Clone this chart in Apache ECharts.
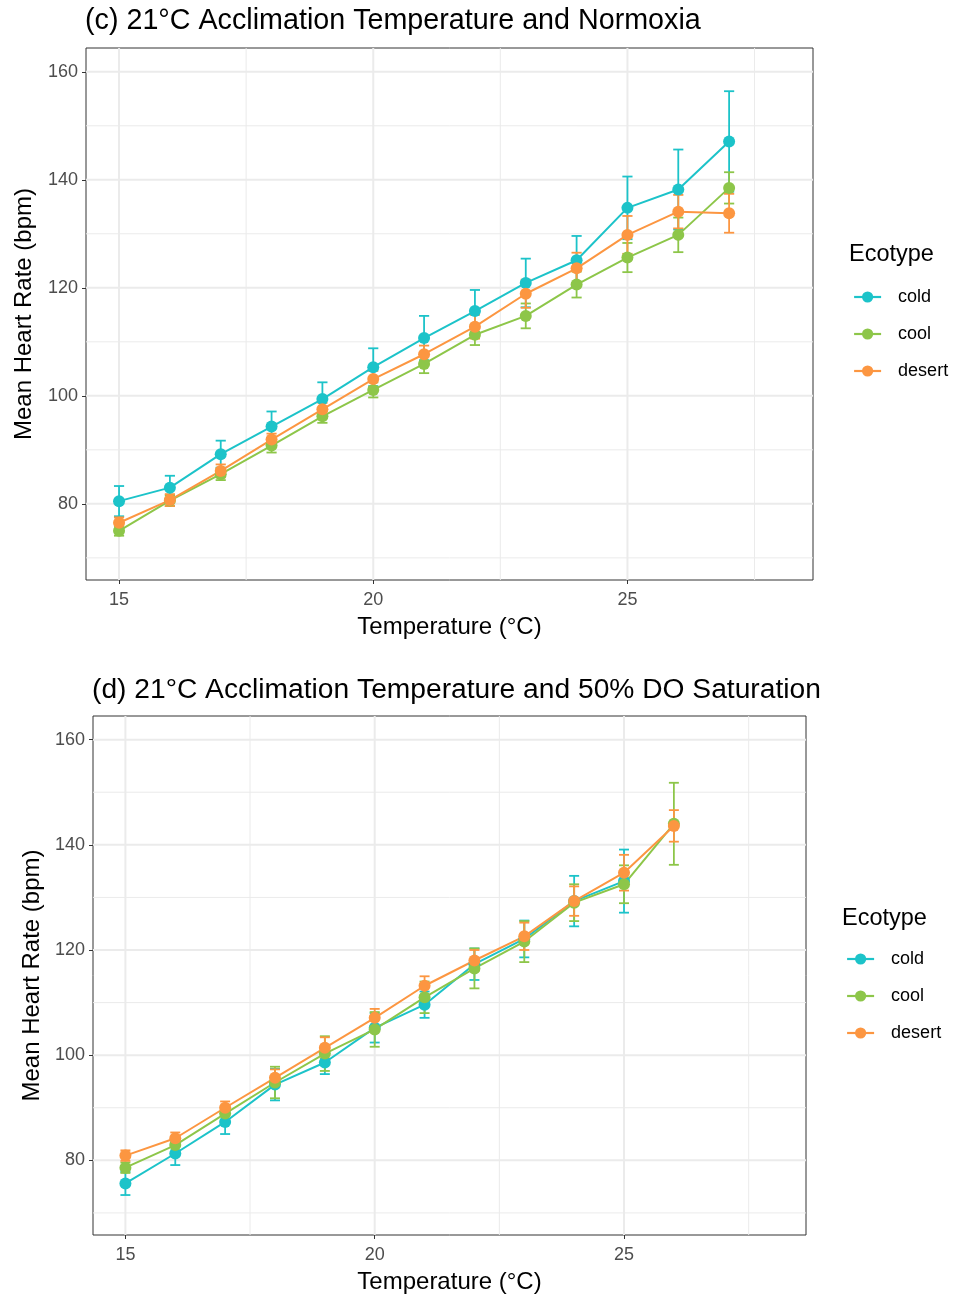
<!DOCTYPE html>
<html>
<head>
<meta charset="utf-8">
<script src="https://cdn.jsdelivr.net/npm/echarts@6/dist/echarts.min.js"></script>
<style>
html,body{margin:0;padding:0;background:#fff;}
#main{width:955px;height:1295px;}
</style>
</head>
<body>
<div id="main"></div>
<script>
// ---------- data ----------
const ecotypes = ['cold', 'cool', 'desert'];
const tempsC = [15, 16, 17, 18, 19, 20, 21, 22, 23, 24, 25, 26, 27];
const coldC = [80.5, 83.0, 89.2, 94.3, 99.4, 105.3, 110.7, 115.7, 120.9, 125.1, 134.8, 138.2, 147.1];
const coldCse = [2.8, 2.2, 2.5, 2.8, 3.1, 3.5, 4.1, 3.9, 4.5, 4.5, 5.8, 7.4, 9.3];
const coolC = [75.0, 80.6, 85.5, 90.8, 96.2, 101.1, 105.9, 111.3, 114.8, 120.6, 125.6, 129.8, 138.5];
const coolCse = [0.9, 1.0, 1.1, 1.3, 1.2, 1.4, 1.7, 1.9, 2.3, 2.4, 2.7, 3.2, 2.9];
const desertC = [76.5, 80.7, 86.1, 91.9, 97.5, 103.1, 107.7, 112.8, 118.9, 123.6, 129.8, 134.1, 133.8];
const desertCse = [1.0, 1.1, 1.2, 1.1, 1.2, 1.5, 1.6, 2.2, 2.6, 2.9, 3.5, 3.1, 3.6];

const tempsD = [15, 16, 17, 18, 19, 20, 21, 22, 23, 24, 25, 26];
const coldD = [75.6, 81.3, 87.3, 94.4, 98.6, 105.2, 109.6, 117.3, 122.1, 129.3, 133.1];
const coldDse = [2.2, 2.2, 2.3, 3.0, 2.2, 2.8, 2.5, 3.0, 3.5, 4.8, 6.0];
const coolD = [78.6, 82.9, 88.9, 94.8, 100.3, 104.9, 111.0, 116.5, 121.6, 129.0, 132.5, 144.0];
const coolDse = [1.0, 1.3, 1.5, 3.0, 3.3, 3.3, 3.0, 3.8, 3.9, 3.5, 3.6, 7.8];
const desertD = [80.9, 84.2, 90.0, 95.7, 101.4, 107.1, 113.2, 118.0, 122.6, 129.3, 134.7, 143.6];
const desertDse = [1.0, 1.1, 1.2, 1.6, 2.0, 1.7, 1.8, 2.0, 2.6, 2.8, 3.4, 3.0];

const xTicks = [15, 20, 25];
const xMinor = [17.5, 22.5, 27.5];
const yTicks = [80, 100, 120, 140, 160];
const yMinor = [70, 90, 110, 130, 150];

const titleC = '(c) 21°C Acclimation Temperature and Normoxia';
const titleD = '(d) 21°C Acclimation Temperature and 50% DO Saturation';
const xTitle = 'Temperature (°C)';
const yTitle = 'Mean Heart Rate (bpm)';
const legendTitle = 'Ecotype';

// ---------- styling ----------
const colors = {cold: '#1CC3C9', cool: '#8DC649', desert: '#FC9641'};
const FONT = 'Liberation Sans, Arial, Helvetica, sans-serif';

function gridLineSeries(gi) {
  const data = [];
  xTicks.forEach(v => data.push([v, 0, 1]));
  xMinor.forEach(v => data.push([v, 0, 0]));
  yTicks.forEach(v => data.push([v, 1, 1]));
  yMinor.forEach(v => data.push([v, 1, 0]));
  return {
    type: 'custom', xAxisIndex: gi, yAxisIndex: gi, silent: true, z: 0,
    data: data, encode: {x: -1, y: -1},
    renderItem: function (params, api) {
      const cs = params.coordSys;
      const v = api.value(0), horiz = api.value(1), major = api.value(2);
      let shape;
      if (horiz) {
        const y = api.coord([20, v])[1];
        shape = {x1: cs.x, y1: y, x2: cs.x + cs.width, y2: y};
      } else {
        const x = api.coord([v, 100])[0];
        shape = {x1: x, y1: cs.y, x2: x, y2: cs.y + cs.height};
      }
      return {type: 'line', shape: shape,
        style: {stroke: '#EBEBEB', lineWidth: major ? 2 : 1}};
    }
  };
}

function errSeries(gi, name, xs, ys, se) {
  const data = ys.map((y, i) => [xs[i], y - se[i], y + se[i]]);
  const col = colors[name];
  return {
    type: 'custom', xAxisIndex: gi, yAxisIndex: gi, z: 2, silent: true,
    itemStyle: {color: col},
    data: data, encode: {x: 0, y: [1, 2]},
    renderItem: function (params, api) {
      const x = api.value(0);
      const lo = api.coord([x, api.value(1)]);
      const hi = api.coord([x, api.value(2)]);
      const hw = api.size([0.1, 0])[0];
      const st = {stroke: col, lineWidth: 1.8};
      return {type: 'group', children: [
        {type: 'line', shape: {x1: lo[0], y1: lo[1], x2: hi[0], y2: hi[1]}, style: st},
        {type: 'line', shape: {x1: lo[0] - hw, y1: lo[1], x2: lo[0] + hw, y2: lo[1]}, style: st},
        {type: 'line', shape: {x1: hi[0] - hw, y1: hi[1], x2: hi[0] + hw, y2: hi[1]}, style: st}
      ]};
    }
  };
}

function lineSeries(gi, name, xs, ys) {
  return {
    type: 'line', name: name, xAxisIndex: gi, yAxisIndex: gi, z: 3,
    data: ys.map((y, i) => [xs[i], y]),
    symbol: 'circle', symbolSize: 12, showSymbol: true,
    itemStyle: {color: colors[name]},
    lineStyle: {color: colors[name], width: 2}
  };
}

function xAxis(gi) {
  return {
    type: 'value', gridIndex: gi, min: 14.35, max: 28.65,
    name: xTitle, nameLocation: 'middle', nameGap: 35,
    nameTextStyle: {fontFamily: FONT, fontSize: 24, color: '#000'},
    axisLine: {show: false, onZero: false},
    axisTick: {show: true, length: 4, customValues: xTicks, lineStyle: {color: '#333', width: 1}},
    axisLabel: {customValues: xTicks, margin: 11, fontFamily: FONT, fontSize: 18, color: '#4D4D4D'},
    splitLine: {show: false}
  };
}
function yAxis(gi, mn, mx, gap) {
  return {
    type: 'value', gridIndex: gi, min: mn, max: mx,
    name: yTitle, nameLocation: 'middle', nameGap: gap,
    nameTextStyle: {fontFamily: FONT, fontSize: 24, color: '#000'},
    axisLine: {show: false, onZero: false},
    axisTick: {show: true, length: 4, customValues: yTicks, lineStyle: {color: '#333', width: 1}},
    axisLabel: {customValues: yTicks, margin: 8, fontFamily: FONT, fontSize: 18, color: '#4D4D4D'},
    splitLine: {show: false}
  };
}

function legend(left, top) {
  return {
    data: ecotypes, orient: 'vertical', left: left, top: top,
    itemWidth: 27, itemHeight: 14, itemGap: 17, padding: 0,
    selectedMode: false,
    lineStyle: {width: 2.2},
    textStyle: {fontFamily: FONT, fontSize: 18, color: '#000', padding: [0, 0, 0, 12], lineHeight: 20}
  };
}

const option = {
  animation: false,
  backgroundColor: '#fff',
  title: [
    {text: titleC, left: 85, top: 7, padding: 0, textStyle: {fontFamily: FONT, fontSize: 28.7, fontWeight: 'normal', color: '#000'}},
    {text: titleD, left: 92, top: 676, padding: 0, textStyle: {fontFamily: FONT, fontSize: 28.2, fontWeight: 'normal', color: '#000'}},
    {text: legendTitle, left: 849, top: 243, padding: 0, textStyle: {fontFamily: FONT, fontSize: 23.5, fontWeight: 'normal', color: '#000'}},
    {text: legendTitle, left: 842, top: 907, padding: 0, textStyle: {fontFamily: FONT, fontSize: 23.5, fontWeight: 'normal', color: '#000'}}
  ],
  legend: [legend(853, 287), legend(846, 949)],
  grid: [
    {left: 86, top: 48, width: 727, height: 532, show: true, borderColor: '#333', borderWidth: 1, backgroundColor: 'transparent'},
    {left: 93, top: 716, width: 713, height: 521, show: true, borderColor: '#333', borderWidth: 1, backgroundColor: 'transparent'}
  ],
  xAxis: [xAxis(0), xAxis(1)],
  yAxis: [yAxis(0, 65.9, 164.4, 50), yAxis(1, 65.8, 164.5, 47)],
  series: [
    lineSeries(0, 'cold', tempsC, coldC),
    lineSeries(0, 'cool', tempsC, coolC),
    lineSeries(0, 'desert', tempsC, desertC),
    gridLineSeries(0),
    errSeries(0, 'cold', tempsC, coldC, coldCse),
    errSeries(0, 'cool', tempsC, coolC, coolCse),
    errSeries(0, 'desert', tempsC, desertC, desertCse),
    lineSeries(1, 'cold', tempsD, coldD),
    lineSeries(1, 'cool', tempsD, coolD),
    lineSeries(1, 'desert', tempsD, desertD),
    gridLineSeries(1),
    errSeries(1, 'cold', tempsD, coldD, coldDse),
    errSeries(1, 'cool', tempsD, coolD, coolDse),
    errSeries(1, 'desert', tempsD, desertD, desertDse)
  ]
};

const chart = echarts.init(document.getElementById('main'), null, {renderer: 'canvas'});
chart.setOption(option);
</script>
</body>
</html>
